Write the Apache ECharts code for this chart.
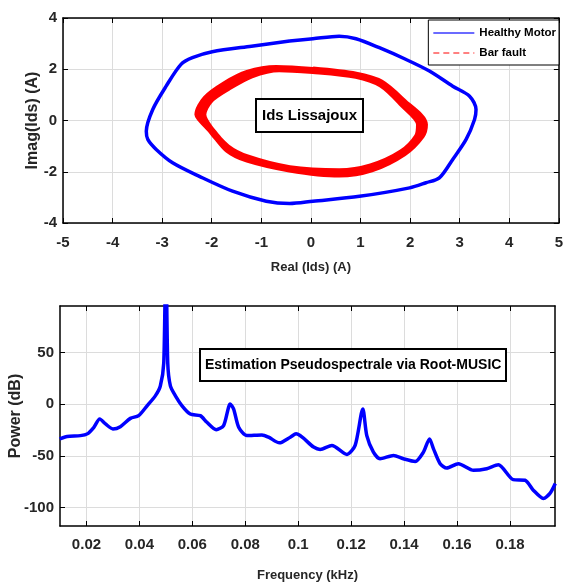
<!DOCTYPE html>
<html>
<head>
<meta charset="utf-8">
<script src="https://cdn.jsdelivr.net/npm/echarts@6/dist/echarts.min.js"></script>
<style>
html,body{margin:0;padding:0;background:#fff}
#main{width:566px;height:583px}
</style>
</head>
<body>
<div id="main"></div>
<script>
// Lissajoux du courant Ids (partie reelle / imaginaire)
var healthyRe = [-0.43,0.04,0.57,0.91,1.38,1.92,2.39,2.86,3.20,3.33,3.30,3.13,2.86,2.59,2.32,1.99,0.98,0.04,-0.43,-0.90,-1.58,-2.25,-2.79,-3.12,-3.29,-3.32,-3.19,-2.92,-2.62,-2.39,-1.99,-1.2,-0.43];
var healthyIm = [3.10,3.19,3.29,3.19,2.84,2.38,1.93,1.34,0.95,0.43,0.04,-0.74,-1.52,-2.24,-2.43,-2.63,-2.96,-3.15,-3.24,-3.15,-2.76,-2.18,-1.65,-1.13,-0.74,-0.42,0.43,1.34,2.19,2.45,2.68,2.90,3.10];
// barre cassee : deux tours legerement decales (bande rouge)
var faultRe = [0.04,0.91,1.41,1.87,2.29,2.23,1.87,1.22,0.57,-0.43,-1.28,-1.67,-2.00,-2.24,-2.28,-2.12,-1.74,-1.28,-0.70,
               0.04,0.91,1.42,1.84,2.19,2.15,1.83,1.21,0.57,-0.43,-1.27,-1.69,-2.04,-2.18,-2.04,-1.68,-1.20,-0.64,0.04];
var faultIm = [1.97,1.77,1.47,0.72,-0.16,-0.58,-1.27,-1.89,-2.09,-1.89,-1.51,-1.14,-0.40,0.10,0.23,0.85,1.40,1.84,2.03,
               1.95,1.76,1.41,0.66,-0.16,-0.63,-1.26,-1.81,-2.00,-1.88,-1.47,-1.05,-0.31,0.23,0.79,1.28,1.78,2.02,1.95];

// pseudospectre Root-MUSIC
var freq = [0.0099,0.0127,0.0177,0.0203,0.0228,0.025,0.0272,0.030,0.0328,0.0366,0.0397,0.0429,0.046,0.0479,0.0492,0.0500,0.0507,0.0517,0.0536,0.0561,0.0592,0.063,0.0655,0.069,0.0718,0.0743,0.0756,0.0775,0.0806,0.0863,0.0888,0.0929,0.0970,0.0992,0.1058,0.1083,0.1127,0.1184,0.1215,0.1244,0.1259,0.1284,0.1309,0.136,0.1397,0.1442,0.1473,0.1496,0.1511,0.1536,0.1561,0.1605,0.1662,0.1712,0.1756,0.1812,0.1857,0.1888,0.1926,0.1951,0.1971];
var power = [-33.7,-31.4,-30.5,-28.8,-22.4,-14.4,-19.2,-24,-21.8,-13.8,-11.2,-1.6,8,17.6,40,150,40,17.6,8,-1.6,-9.6,-11.2,-17.6,-24.7,-20.8,0,-4.8,-22.4,-30.5,-29.8,-32,-37.5,-32,-28.8,-41.6,-43.9,-40,-48.7,-40,-4.8,-30.5,-46.5,-52.9,-49.7,-52.9,-55.5,-46.5,-33.7,-43.3,-57.7,-61.9,-57.7,-64.1,-62.5,-58.7,-73.1,-73.7,-83.3,-91.3,-86.5,-76.9];

var freqTicks = [0.02,0.04,0.06,0.08,0.1,0.12,0.14,0.16,0.18];
var powerTicks = [-100,-50,0,50];

var FONT = "'Liberation Sans',Arial,sans-serif";

function zip(a, b) {
  var out = [];
  for (var i = 0; i < a.length; i++) out.push([a[i], b[i]]);
  return out;
}

var tickLabel = {fontFamily: FONT, fontWeight: 'bold', fontSize: 15, color: '#262626'};
var gridLine = {show: true, lineStyle: {color: '#dcdcdc', width: 1}};
var axLine = {show: true, onZero: false, lineStyle: {color: '#000', width: 1.5}};
var axTick = {show: true, inside: true, length: 5, lineStyle: {color: '#000', width: 1}};
var nameStyleX = {fontFamily: FONT, fontWeight: 'bold', fontSize: 13, color: '#262626'};
var nameStyleY = {fontFamily: FONT, fontWeight: 'bold', fontSize: 16, color: '#262626'};

var myChart = echarts.init(document.getElementById('main'));

var option = {
  animation: false,
  backgroundColor: '#fff',
  grid: [
    {left: 63, top: 18, right: 7, bottom: 360},
    {left: 59, top: 306, right: 11, bottom: 54}
  ],
  title: [
    {
      text: 'Ids Lissajoux', left: 256, top: 99,
      padding: [9, 6, 9, 6],
      borderColor: '#000', borderWidth: 2, backgroundColor: '#fff',
      textStyle: {fontFamily: FONT, fontWeight: 'bold', fontSize: 15, color: '#000'}
    },
    {
      text: 'Estimation Pseudospectrale via Root-MUSIC', left: 200, top: 349,
      padding: [9, 5, 9, 5],
      borderColor: '#000', borderWidth: 2, backgroundColor: '#fff',
      textStyle: {fontFamily: FONT, fontWeight: 'bold', fontSize: 14, color: '#000'}
    }
  ],
  legend: {
    right: 7, top: 20,
    orient: 'vertical',
    selectedMode: false,
    padding: [7, 3, 6, 4],
    itemGap: 8,
    itemWidth: 41, itemHeight: 12,
    borderColor: '#000', borderWidth: 1, backgroundColor: '#fff',
    textStyle: {fontFamily: FONT, fontWeight: 'bold', fontSize: 11.5, color: '#000'},
    data: [
      {name: 'Healthy Motor', itemStyle: {opacity: 0}, lineStyle: {color: '#6b6bff', width: 2}},
      {name: 'Bar fault', itemStyle: {opacity: 0}, lineStyle: {color: '#ff8080', width: 2, type: [6, 4]}}
    ]
  },
  xAxis: [
    {
      gridIndex: 0, type: 'value', min: -5, max: 5, interval: 1,
      name: 'Real (Ids) (A)', nameLocation: 'middle', nameGap: 38, nameMoveOverlap: false,
      nameTextStyle: nameStyleX,
      axisLine: axLine, axisTick: axTick, splitLine: gridLine,
      axisLabel: Object.assign({margin: 12}, tickLabel)
    },
    {
      gridIndex: 0, type: 'value', min: -5, max: 5, interval: 1, position: 'top',
      axisLine: axLine, axisTick: axTick, splitLine: {show: false}, axisLabel: {show: false}
    },
    {
      gridIndex: 1, type: 'value', min: 0.01, max: 0.197,
      name: 'Frequency (kHz)', nameLocation: 'middle', nameGap: 43, nameMoveOverlap: false,
      nameTextStyle: nameStyleX,
      axisLine: axLine,
      axisTick: Object.assign({customValues: freqTicks}, axTick),
      splitLine: gridLine,
      axisLabel: Object.assign({margin: 11, customValues: freqTicks}, tickLabel)
    },
    {
      gridIndex: 1, type: 'value', min: 0.01, max: 0.197, position: 'top',
      axisLine: axLine,
      axisTick: Object.assign({customValues: freqTicks}, axTick),
      splitLine: {show: false}, axisLabel: {show: false}
    }
  ],
  yAxis: [
    {
      gridIndex: 0, type: 'value', min: -4, max: 4, interval: 2,
      name: 'Imag(Ids) (A)', nameLocation: 'middle', nameGap: 22, nameMoveOverlap: false,
      nameTextStyle: nameStyleY,
      axisLine: axLine, axisTick: axTick, splitLine: gridLine,
      axisLabel: Object.assign({margin: 6}, tickLabel)
    },
    {
      gridIndex: 0, type: 'value', min: -4, max: 4, interval: 2, position: 'right',
      axisLine: axLine, axisTick: axTick, splitLine: {show: false}, axisLabel: {show: false}
    },
    {
      gridIndex: 1, type: 'value', min: -118, max: 95,
      name: 'Power (dB)', nameLocation: 'middle', nameGap: 36, nameMoveOverlap: false,
      nameTextStyle: nameStyleY,
      axisLine: axLine,
      axisTick: Object.assign({customValues: powerTicks}, axTick),
      splitLine: gridLine,
      axisLabel: Object.assign({margin: 6, customValues: powerTicks}, tickLabel)
    },
    {
      gridIndex: 1, type: 'value', min: -118, max: 95, position: 'right',
      axisLine: axLine,
      axisTick: Object.assign({customValues: powerTicks}, axTick),
      splitLine: {show: false}, axisLabel: {show: false}
    }
  ],
  series: [
    {
      name: 'Healthy Motor', type: 'line', xAxisIndex: 0, yAxisIndex: 0,
      data: zip(healthyRe, healthyIm), showSymbol: false, symbol: 'none', smooth: 0.3,
      lineStyle: {color: '#0000ff', width: 3.5}, itemStyle: {color: '#0000ff'}
    },
    {
      name: 'Bar fault', type: 'line', xAxisIndex: 0, yAxisIndex: 0,
      data: zip(faultRe, faultIm), showSymbol: false, symbol: 'none', smooth: 0.3,
      lineStyle: {color: '#ff0000', width: 7}, itemStyle: {color: '#ff0000'}
    },
    {
      name: 'Pseudospectre', type: 'line', xAxisIndex: 2, yAxisIndex: 2,
      data: zip(freq, power), showSymbol: false, symbol: 'none', smooth: 0.25, clip: true,
      lineStyle: {color: '#0000ff', width: 3.5}
    }
  ]
};

myChart.setOption(option);
</script>
</body>
</html>
